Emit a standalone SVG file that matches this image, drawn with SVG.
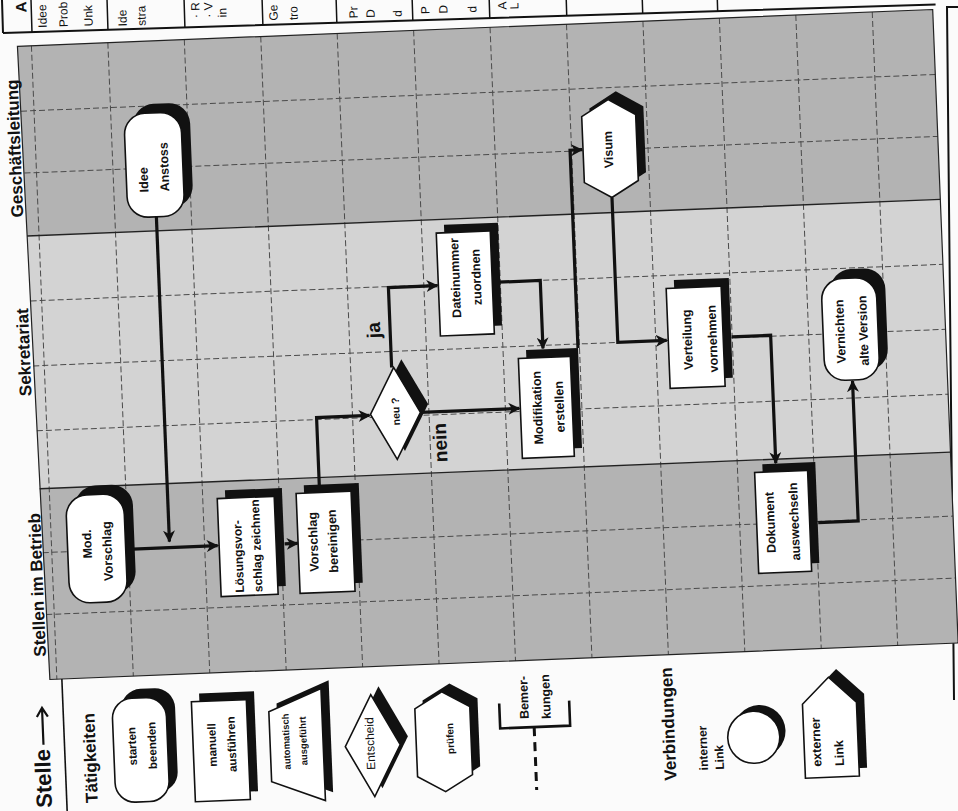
<svg xmlns="http://www.w3.org/2000/svg" width="958" height="811" viewBox="0 0 958 811">
<defs>
<style>
.t{font-family:'Liberation Sans',Arial,sans-serif;fill:#111}
.b{font-weight:bold}
.n{font-size:12.5px;font-weight:bold}
.sh{fill:#111}
.wh{fill:#fff;stroke:#111;stroke-width:1.6}
.grid{stroke:#4a4a4a;stroke-width:1;stroke-dasharray:6 3;fill:none}
.con{fill:none;stroke:#111;stroke-width:3.2;marker-end:url(#ah)}
.lane{font-size:17px;font-weight:bold}
.tb{font-size:12px}
.m{text-anchor:middle}
</style>
<marker id="ah" viewBox="0 0 12 12" refX="11" refY="6" markerWidth="12" markerHeight="12" markerUnits="userSpaceOnUse" orient="auto"><path d="M0,0 L12,6 L0,12 L3.5,6 Z" fill="#111"/></marker>
</defs>
<rect width="958" height="811" fill="#fbfbfb"/>

<g id="table" transform="rotate(-1.75 3 33)">
<path d="M3,33 H936 M3,-30 V33" stroke="#111" stroke-width="2" fill="none"/>
<path d="M32,-30 V33 M108,-30 V33 M185,-30 V33 M263,-30 V33 M337,-30 V33 M413,-30 V33 M490,-30 V33 M567,-30 V33 M643,-30 V33 M718,-30 V33" stroke="#111" stroke-width="1.5" fill="none"/>
<text class="t b" font-size="15" x="27" y="13" transform="rotate(-90 27 13)">A</text>
<text class="t tb" x="47" y="29" transform="rotate(-90 47 29)">Idee</text>
<text class="t tb" x="68" y="29" transform="rotate(-90 68 29)">Prob</text>
<text class="t tb" x="93" y="29" transform="rotate(-90 93 29)">Unk</text>
<text class="t tb" x="127" y="30" transform="rotate(-90 127 30)">Ide</text>
<text class="t tb" x="146" y="30" transform="rotate(-90 146 30)">stra</text>
<text class="t tb" x="200" y="24" transform="rotate(-90 200 24)">· R</text>
<text class="t tb" x="213" y="24" transform="rotate(-90 213 24)">· V</text>
<text class="t tb" x="227" y="24" transform="rotate(-90 227 24)">in</text>
<text class="t tb" x="278" y="29" transform="rotate(-90 278 29)">Ge</text>
<text class="t tb" x="298" y="29" transform="rotate(-90 298 29)">tro</text>
<text class="t tb" x="358" y="29" transform="rotate(-90 358 29)">Pr</text>
<text class="t tb" x="375" y="29" transform="rotate(-90 375 29)">D</text>
<text class="t tb" x="402" y="29" transform="rotate(-90 402 29)">d</text>
<text class="t tb" x="430" y="27" transform="rotate(-90 430 27)">P</text>
<text class="t tb" x="448" y="27" transform="rotate(-90 448 27)">D</text>
<text class="t tb" x="477" y="27" transform="rotate(-90 477 27)">d</text>
<text class="t tb" x="507" y="25" transform="rotate(-90 507 25)">A</text>
<text class="t tb" x="519" y="25" transform="rotate(-90 519 25)">L</text>
</g>
<path d="M958,7 H947 L954,700" stroke="#111" stroke-width="2" fill="none"/>

<g transform="rotate(-2.3 480 400)">
<g id="lanes">
<polygon points="32,28 948,28 948,218 34,218" fill="#b3b3b3"/>
<polygon points="34,218 948,218 948,471 36.5,471" fill="#d3d3d3"/>
<polygon points="36.5,471 948,471 948,662 39,662" fill="#b3b3b3"/>
<path class="grid" d="M46,28 V662 M122.5,28 V662 M199,28 V662 M275.5,28 V662 M352,28 V662 M428.5,28 V662 M505,28 V662 M581.5,28 V662 M658,28 V662 M734.5,28 V662 M811,28 V662 M887.5,28 V662"/>
<path class="grid" d="M33,93 H948 M34,155 H948 M35,283 H948 M35,348 H948 M36,413 H948 M37,535 H948 M38,597 H948"/>
<polygon points="32,28 948,28 948,662 39,662" fill="none" stroke="#222" stroke-width="1.2"/>
<path d="M34,218 H948 M36.5,471 H948" stroke="#222" stroke-width="1.4" fill="none"/>
<text class="t lane m" x="31" y="130" transform="rotate(-90 31 130)">Geschäftsleitung</text>
<text class="t lane m" x="32" y="334" transform="rotate(-90 32 334)">Sekretariat</text>
<text class="t lane m" x="36" y="567" transform="rotate(-90 36 567)">Stellen im Betrieb</text>
</g>

<g id="connectors">
<path class="con" d="M164,204 V529"/>
<path class="con" d="M127,535 H212"/>
<path class="con" d="M279,536 H292"/>
<path class="con" d="M316,486 V411 H369"/>
<path class="con" d="M393,364 V284 H442"/>
<path class="con" d="M420,410 H519"/>
<path class="con" d="M503,283 H545 V351"/>
<path class="con" d="M580,352 V154 H592"/>
<path class="con" d="M620,203 V348 H669"/>
<path class="con" d="M734,347 H773 V475"/>
<path class="con" d="M813,536 H853 V396"/>
<text class="t b m" font-size="19" x="383" y="326" transform="rotate(-90 383 326)">ja</text>
<text class="t b m" font-size="19" x="445" y="441" transform="rotate(-90 445 441)">nein</text>
</g>

<g id="n-idee">
<rect class="sh" x="144.5" y="91" width="57" height="104" rx="21"/>
<rect class="wh" x="135.5" y="100" width="57" height="104" rx="21"/>
<text class="t n" x="157" y="179" transform="rotate(-90 157 179)">Idee</text>
<text class="t n" x="178" y="179" transform="rotate(-90 178 179)">Anstoss</text>
</g>
<g id="n-mod">
<rect class="sh" x="71" y="470" width="58" height="108" rx="21"/>
<rect class="wh" x="62" y="479" width="58" height="108" rx="21"/>
<text class="t n m" x="86" y="528" transform="rotate(-90 86 528)">Mod.</text>
<text class="t n m" x="106" y="536" transform="rotate(-90 106 536)">Vorschlag</text>
</g>
<g id="n-loesung">
<rect class="sh" x="221.5" y="480" width="57" height="98"/>
<rect class="wh" x="213.5" y="488" width="57" height="98"/>
<text class="t b" font-size="12" x="236.5" y="583" transform="rotate(-90 236.5 583)">Lösungsvor-</text>
<text class="t b" font-size="12" x="255" y="583" transform="rotate(-90 255 583)">schlag zeichnen</text>
</g>
<g id="n-vorschlag">
<rect class="sh" x="300.5" y="478" width="55" height="100"/>
<rect class="wh" x="292.5" y="486" width="55" height="100"/>
<text class="t n m" x="312" y="535" transform="rotate(-90 312 535)">Vorschlag</text>
<text class="t n m" x="331.5" y="535" transform="rotate(-90 331.5 535)">bereinigen</text>
</g>
<g id="n-neu">
<polygon class="sh" points="403,356 428,402 403,448 378,402"/>
<polygon class="wh" points="395,364 420,410 395,456 370,410"/>
<text class="t b m" font-size="10.5" x="399" y="408" transform="rotate(-90 399 408)">neu ?</text>
</g>
<g id="n-datei">
<rect class="sh" x="451" y="223.5" width="54" height="103"/>
<rect class="wh" x="443" y="231.5" width="54" height="103"/>
<text class="t n m" x="464.5" y="277" transform="rotate(-90 464.5 277)">Dateinummer</text>
<text class="t n m" x="485.5" y="277" transform="rotate(-90 485.5 277)">zuordnen</text>
</g>
<g id="n-modif">
<rect class="sh" x="528" y="352" width="52" height="100"/>
<rect class="wh" x="520" y="360" width="52" height="100"/>
<text class="t n m" x="541.5" y="410" transform="rotate(-90 541.5 410)">Modifikation</text>
<text class="t n m" x="563.5" y="410" transform="rotate(-90 563.5 410)">erstellen</text>
</g>
<g id="n-visum">
<polygon class="sh" points="628,97 655,113 655,179 628,195 601,179 601,113"/>
<polygon class="wh" points="620,105 647,121 647,187 620,203 593,187 593,121"/>
<text class="t n m" x="622.5" y="155" transform="rotate(-90 622.5 155)">Visum</text>
</g>
<g id="n-verteil">
<rect class="sh" x="678.5" y="288" width="55" height="100"/>
<rect class="wh" x="670.5" y="296" width="55" height="100"/>
<text class="t n m" x="694" y="348" transform="rotate(-90 694 348)">Verteilung</text>
<text class="t n m" x="719" y="348" transform="rotate(-90 719 348)">vornehmen</text>
</g>
<g id="n-vernicht">
<rect class="sh" x="834.5" y="284" width="55" height="102" rx="21"/>
<rect class="wh" x="825.5" y="293" width="55" height="102" rx="21"/>
<text class="t n m" x="847" y="346" transform="rotate(-90 847 346)">Vernichten</text>
<text class="t n m" x="870" y="346" transform="rotate(-90 870 346)">alte Version</text>
</g>
<g id="n-dokument">
<rect class="sh" x="759.5" y="475.5" width="53" height="101"/>
<rect class="wh" x="751.5" y="483.5" width="53" height="101"/>
<text class="t n m" x="769.5" y="534" transform="rotate(-90 769.5 534)">Dokument</text>
<text class="t n m" x="793.5" y="534" transform="rotate(-90 793.5 534)">auswechseln</text>
</g>

<g id="legend">
<text class="t b" font-size="22" x="36" y="790" transform="rotate(-90 36 790)">Stelle</text>
<path d="M30,727 V691 M24.5,699 L30,690 L35.5,699" stroke="#111" stroke-width="2.2" fill="none"/>
<path d="M51,662 V830" stroke="#111" stroke-width="1.6" fill="none"/>
<text class="t b" font-size="17" x="82" y="787" transform="rotate(-90 82 787)">Tätigkeiten</text>
</g>
<g id="l-start">
<rect class="sh" x="109" y="675" width="54" height="104" rx="20"/>
<rect class="wh" x="100" y="684" width="54" height="104" rx="20"/>
<text class="t b m" font-size="11.5" x="122.5" y="732" transform="rotate(-90 122.5 732)">starten</text>
<text class="t b m" font-size="11.5" x="142.5" y="732" transform="rotate(-90 142.5 732)">beenden</text>
</g>
<g id="l-manuell">
<rect class="sh" x="187.5" y="682" width="55" height="100"/>
<rect class="wh" x="179.5" y="690" width="55" height="100"/>
<text class="t b m" font-size="11.5" x="202.5" y="734" transform="rotate(-90 202.5 734)">manuell</text>
<text class="t b m" font-size="11.5" x="222" y="734" transform="rotate(-90 222 734)">ausführen</text>
</g>
<g id="l-auto">
<polygon class="sh" points="264.5,695 317.5,674 317.5,786 264.5,765"/>
<polygon class="wh" points="256.5,703 309.5,682 309.5,794 256.5,773"/>
<text class="t b m" font-size="9.5" x="276" y="733.5" transform="rotate(-90 276 733.5)">automatisch</text>
<text class="t b m" font-size="9.5" x="293" y="733.5" transform="rotate(-90 293 733.5)">ausgeführt</text>
</g>
<g id="l-entscheid">
<polygon class="sh" points="367,682 394.5,733 367,784 339.5,733"/>
<polygon class="wh" points="359,690 386.5,741 359,792 331.5,741"/>
<text class="t m" font-size="12" x="360.5" y="739" transform="rotate(-90 360.5 739)">Entscheid</text>
</g>
<g id="l-pruefen">
<polygon class="sh" points="438,682 465.5,698 465.5,766 438,782 410.5,766 410.5,698"/>
<polygon class="wh" points="430,690 457.5,706 457.5,774 430,790 402.5,774 402.5,706"/>
<text class="t b m" font-size="10" x="440" y="737" transform="rotate(-90 440 737)">prüfen</text>
</g>
<g id="l-bemerkung">
<path d="M487,704 V729 H557 V704" stroke="#111" stroke-width="2.6" fill="none"/>
<path d="M521,729 V792" stroke="#111" stroke-width="3" stroke-dasharray="9 6" fill="none"/>
<text class="t b m" font-size="12.5" x="516" y="699" transform="rotate(-90 516 699)">Bemer-</text>
<text class="t b m" font-size="12.5" x="538" y="699" transform="rotate(-90 538 699)">kungen</text>
</g>
<g id="l-verbindungen">
<text class="t b" font-size="17" x="661" y="788" transform="rotate(-90 661 788)">Verbindungen</text>
<text class="t b" font-size="12" x="693" y="779" transform="rotate(-90 693 779)">interner</text>
<text class="t b" font-size="12" x="709" y="779" transform="rotate(-90 709 779)">Link</text>
</g>
<g id="l-intern">
<circle class="sh" cx="746" cy="742" r="26"/>
<circle class="wh" cx="740" cy="748" r="26"/>
</g>
<g id="l-extern">
<polygon class="sh" points="825,683 852,709 852,783 798,783 798,709"/>
<polygon class="wh" points="817,691 844,717 844,791 790,791 790,717"/>
<text class="t b" font-size="12.5" x="806.5" y="780" transform="rotate(-90 806.5 780)">externer</text>
<text class="t b" font-size="12.5" x="829" y="780" transform="rotate(-90 829 780)">Link</text>
</g>
</g>
</svg>
